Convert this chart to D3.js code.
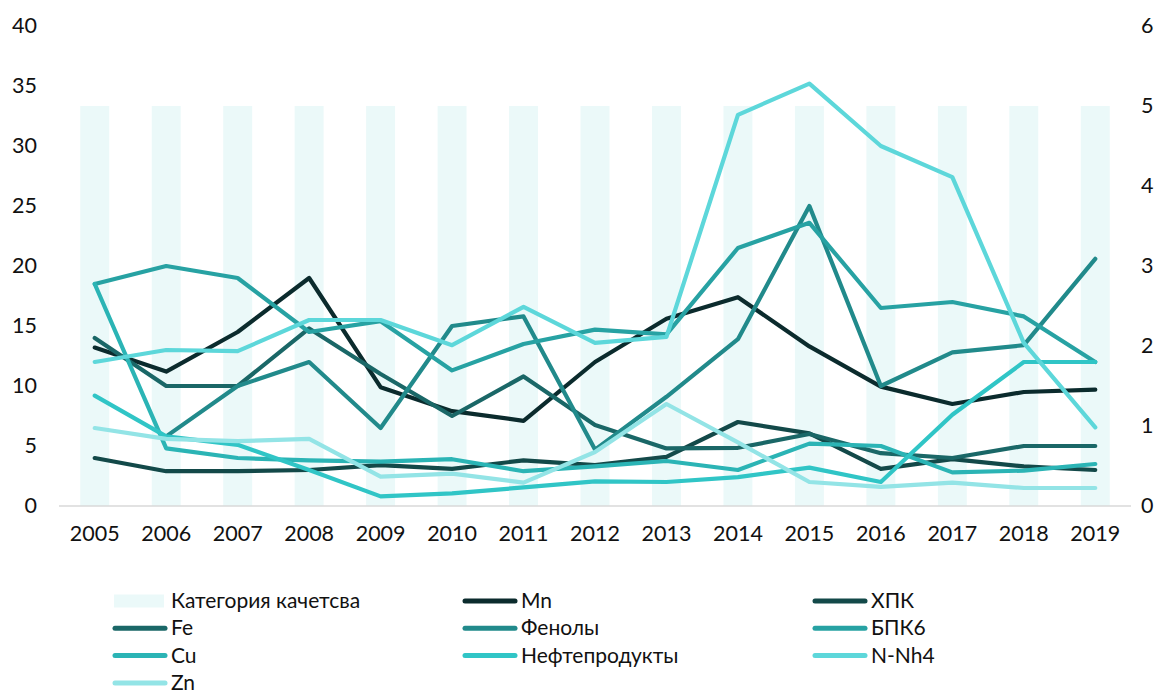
<!DOCTYPE html>
<html>
<head>
<meta charset="utf-8">
<script src="https://cdn.jsdelivr.net/npm/d3@7"></script>
<style>
  html, body { margin: 0; padding: 0; background: #ffffff; }
  svg { display: block; }
  text { font-family: Lato, "Open Sans", sans-serif; fill: #111; }
</style>
</head>
<body>
<svg id="chart" width="1168" height="695"></svg>
<script>
// ---- data ----
const years = ["2005","2006","2007","2008","2009","2010","2011","2012","2013","2014","2015","2016","2017","2018","2019"];
const leftTicks = [0, 5, 10, 15, 20, 25, 30, 35, 40];
const rightTicks = [0, 1, 2, 3, 4, 5, 6];

const qualityCategory = [5, 5, 5, 5, 5, 5, 5, 5, 5, 5, 5, 5, 5, 5, 5];
const mn      = [13.2, 11.2, 14.5, 19.0, 9.9, 7.9, 7.1, 12.0, 15.6, 17.4, 13.3, 9.95, 8.5, 9.5, 9.7];
const hpk     = [4.0, 2.9, 2.9, 3.0, 3.4, 3.1, 3.8, 3.4, 4.1, 7.0, 6.05, 3.1, 3.9, 3.3, 3.0];
const fe      = [14.0, 10.0, 10.0, 14.8, 11.0, 7.5, 10.8, 6.75, 4.8, 4.85, 6.0, 4.4, 4.0, 5.0, 5.0];
const phenols = [null, 5.8, 10.0, 12.0, 6.5, 15.0, 15.8, 4.7, 9.1, 13.9, 25.0, 10.0, 12.8, 13.4, 20.6];
const bpk6    = [18.5, 20.0, 19.0, 14.5, 15.4, 11.3, 13.5, 14.7, 14.3, 21.5, 23.6, 16.5, 17.0, 15.8, 12.0];
const cu      = [18.5, 4.8, 4.0, 3.8, 3.7, 3.9, 2.9, 3.3, 3.75, 3.0, 5.2, 5.0, 2.8, 2.95, 3.5];
const oil     = [9.2, 5.8, 5.1, 3.0, 0.8, 1.05, 1.55, 2.05, 2.0, 2.4, 3.2, 2.0, 7.6, 12.0, 12.0];
const nnh4    = [12.0, 13.0, 12.9, 15.5, 15.5, 13.4, 16.6, 13.6, 14.1, 32.6, 35.2, 30.0, 27.4, 13.6, 6.55];
const zn      = [6.5, 5.6, 5.4, 5.6, 2.45, 2.7, 1.95, 4.5, 8.5, 5.3, 2.0, 1.6, 1.95, 1.5, 1.5];

const series = [
  { name: "Mn", values: mn, color: "#0b2b2d" },
  { name: "ХПК", values: hpk, color: "#134949" },
  { name: "Fe", values: fe, color: "#1a6767" },
  { name: "Фенолы", values: phenols, color: "#218a8b" },
  { name: "БПК6", values: bpk6, color: "#27a2a3" },
  { name: "Cu", values: cu, color: "#2bb4b5" },
  { name: "Нефтепродукты", values: oil, color: "#30c5c6" },
  { name: "N-Nh4", values: nnh4, color: "#5dd7da" },
  { name: "Zn", values: zn, color: "#93e4e6" }
];
const barName = "Категория качетсва";
const barColor = "#ebf9f9";

// ---- layout ----
const svg = d3.select("#chart");
const plot = { left: 59, right: 1131, top: 26, bottom: 506 };

const x = d3.scaleBand().domain(years).range([plot.left, plot.right]).padding(0);
const yL = d3.scaleLinear().domain([0, 40]).range([plot.bottom, plot.top]);
const yR = d3.scaleLinear().domain([0, 6]).range([plot.bottom, plot.top]);
const barW = x.bandwidth() * 0.405;
const cx = d => x(d) + x.bandwidth() / 2;
const axisFont = 21.5;

// bars (secondary axis)
svg.append("g").selectAll("rect")
  .data(years.map((yv, i) => ({ year: yv, v: qualityCategory[i] })))
  .join("rect")
  .attr("x", d => cx(d.year) - barW / 2)
  .attr("width", barW)
  .attr("y", d => yR(d.v))
  .attr("height", d => yR(0) - yR(d.v))
  .attr("fill", barColor);

// baseline
svg.append("line")
  .attr("x1", plot.left).attr("x2", plot.right)
  .attr("y1", yL(0)).attr("y2", yL(0))
  .attr("stroke", "#d9d9d9").attr("stroke-width", 1.5);

const styleText = g => g.selectAll("text")
  .attr("font-size", axisFont).attr("font-family", "Lato, sans-serif").attr("fill", "#111");

// left axis
const axL = d3.axisLeft(yL).tickValues(leftTicks).tickSize(0).tickPadding(0).tickFormat(d3.format("d"));
svg.append("g").attr("transform", "translate(37,0)").call(axL)
  .call(g => g.select(".domain").remove())
  .call(styleText);

// right axis
const axR = d3.axisRight(yR).tickValues(rightTicks).tickSize(0).tickPadding(0).tickFormat(d3.format("d"));
svg.append("g").attr("transform", "translate(1141,0)").call(axR)
  .call(g => g.select(".domain").remove())
  .call(styleText);

// bottom axis
const axB = d3.axisBottom(x).tickSize(0).tickPadding(0);
svg.append("g").attr("transform", `translate(0,${plot.bottom + 20})`).call(axB)
  .call(g => g.select(".domain").remove())
  .call(styleText);

// lines
const line = d3.line()
  .defined(d => d.v != null)
  .x(d => cx(d.year))
  .y(d => yL(d.v));

svg.append("g").selectAll("path")
  .data(series)
  .join("path")
  .attr("d", s => line(years.map((yv, i) => ({ year: yv, v: s.values[i] }))))
  .attr("fill", "none")
  .attr("stroke", s => s.color)
  .attr("stroke-width", 4.2)
  .attr("stroke-linejoin", "round")
  .attr("stroke-linecap", "round");

// legend
const legendItems = [{ name: barName, color: barColor, type: "bar" }]
  .concat(series.map(s => ({ name: s.name, color: s.color, type: "line" })));
const colX = [113, 463, 813];
const rowY0 = 601, rowH = 27.3;
const lg = svg.append("g").selectAll("g")
  .data(legendItems)
  .join("g")
  .attr("transform", (d, i) => `translate(${colX[i % 3]},${rowY0 + Math.floor(i / 3) * rowH})`);

lg.filter(d => d.type === "bar").append("rect")
  .attr("x", 1).attr("y", -6.5).attr("width", 50).attr("height", 13)
  .attr("fill", d => d.color);
lg.filter(d => d.type === "line").append("line")
  .attr("x1", 2).attr("x2", 52).attr("y1", 0).attr("y2", 0)
  .attr("stroke", d => d.color).attr("stroke-width", 5).attr("stroke-linecap", "round");
lg.append("text")
  .attr("x", 58).attr("y", 0).attr("dy", "0.33em")
  .attr("font-size", 21)
  .text(d => d.name);
</script>
</body>
</html>
